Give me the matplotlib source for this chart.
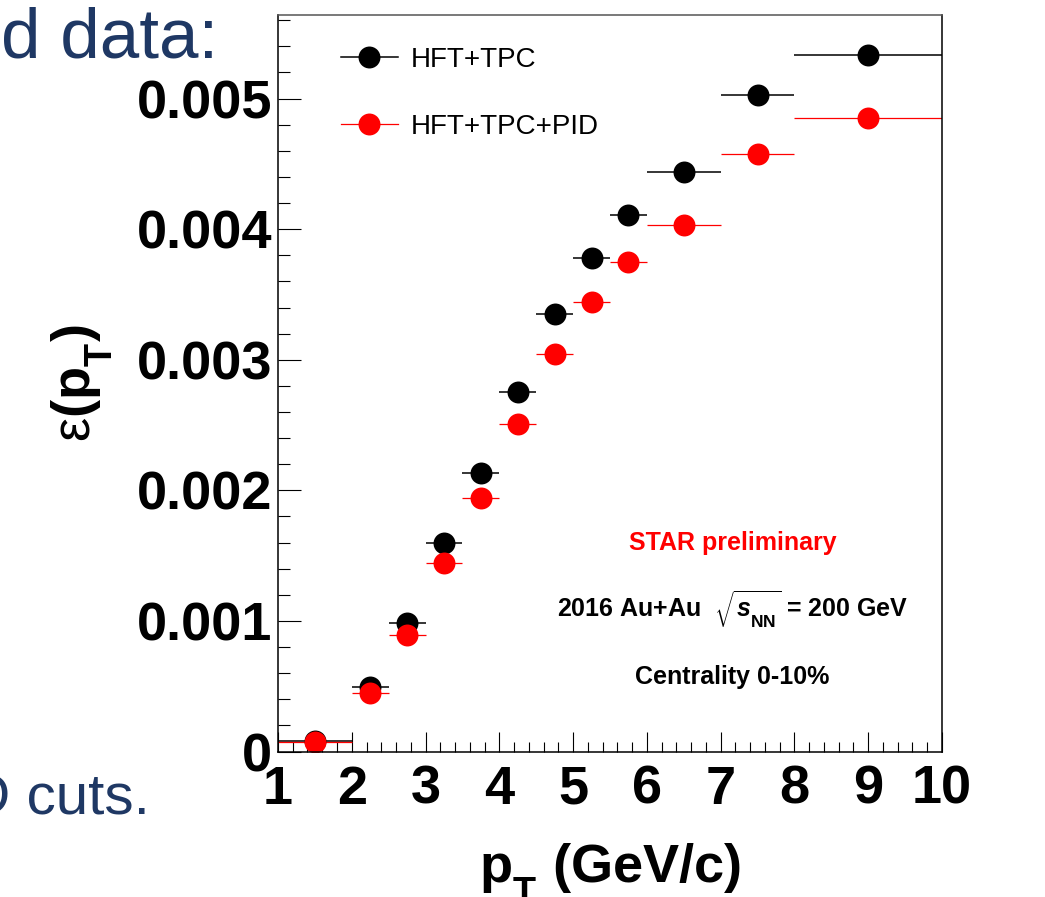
import matplotlib
matplotlib.use("Agg")
import matplotlib.pyplot as plt
from matplotlib.lines import Line2D
from matplotlib.ticker import MultipleLocator, FuncFormatter
import numpy as np

plt.rcParams['font.family'] = ['Liberation Sans', 'DejaVu Sans']
plt.rcParams['mathtext.fontset'] = 'custom'
plt.rcParams['mathtext.rm'] = 'Liberation Sans:bold'
plt.rcParams['mathtext.bf'] = 'Liberation Sans:bold'
plt.rcParams['mathtext.it'] = 'Liberation Sans:italic:bold'
plt.rcParams['mathtext.sf'] = 'Liberation Sans'

# ROOT drops subscripts lower than mathtext does
try:
    import matplotlib._mathtext as _mt
    _mt.FontConstantsBase.sub1 = 0.8
except (ImportError, AttributeError):
    pass

# pT bins (GeV/c)
bin_lo = np.array([1.0, 2.0, 2.5, 3.0, 3.5, 4.0, 4.5, 5.0, 5.5, 6.0, 7.0, 8.0])
bin_hi = np.array([2.0, 2.5, 3.0, 3.5, 4.0, 4.5, 5.0, 5.5, 6.0, 7.0, 8.0, 10.0])

# efficiencies
eff_tpc = [0.000083, 0.000494, 0.000985, 0.00160, 0.002134, 0.002755,
           0.003352, 0.003782, 0.00411, 0.00444, 0.00503, 0.00533]
eff_pid = [0.000075, 0.00045, 0.000893, 0.001444, 0.001943, 0.00251,
           0.003046, 0.003444, 0.00375, 0.004034, 0.004579, 0.00485]

labels = ['HFT+TPC', 'HFT+TPC+PID']
colors = ['black', 'red']

x = (bin_lo + bin_hi) / 2
xerr = (bin_hi - bin_lo) / 2

fig = plt.figure(figsize=(10.45, 8.97), dpi=100)
ax = fig.add_axes([0.266, 0.1622, 0.6354, 0.8211])

ms = 15.8
handles = []
for y, c, lab, lw in zip([eff_tpc, eff_pid], colors, labels, [1.1, 0.9]):
    ax.errorbar(x, y, xerr=xerr, fmt='o', color=c, ms=ms, elinewidth=lw,
                capsize=0, mew=0)
    handles.append(Line2D([], [], color=c, marker='o', ms=ms, lw=lw, mew=0))

ax.set_xlim(1, 10)
ax.set_ylim(0, 0.00564)

ax.xaxis.set_major_locator(MultipleLocator(1))
ax.xaxis.set_minor_locator(MultipleLocator(0.2))
ax.yaxis.set_major_locator(MultipleLocator(0.001))
ax.yaxis.set_minor_locator(MultipleLocator(0.0002))
ax.yaxis.set_major_formatter(FuncFormatter(lambda v, p: '0' if abs(v) < 1e-9 else f'{v:.3f}'))

ax.tick_params(axis='x', which='major', direction='in', length=14.4, width=0.8,
               pad=9.4, labelsize=39)
ax.tick_params(axis='x', which='minor', direction='in', length=7.2, width=0.8)
ax.tick_params(axis='y', which='major', direction='in', length=16.5, width=0.8,
               pad=4.3, labelsize=39)
ax.tick_params(axis='y', which='minor', direction='in', length=8.6, width=0.8)
for lab in ax.get_xticklabels() + ax.get_yticklabels():
    lab.set_fontweight('bold')

for s in ax.spines.values():
    s.set_linewidth(1.1)
ax.spines['top'].set_color('#555555')

ax.set_xlabel(r'$\mathbf{p}_\mathbf{T}$ (GeV/c)', fontsize=39, fontweight='bold', va='baseline')
ax.xaxis.set_label_coords(0.5, -0.1786)
ax.set_ylabel(r'$\mathsf{\varepsilon}\mathbf{(p}_\mathbf{T}\mathbf{)}$', fontsize=39,
              fontweight='bold', va='center')
ax.yaxis.set_label_coords(-0.295, 0.5)

ax.legend(handles, labels, loc='center left', bbox_to_anchor=(0.0949, 0.8934),
          frameon=False, fontsize=20, numpoints=1, handlelength=2.05,
          handletextpad=0.47, labelspacing=1.46, borderpad=0, borderaxespad=0)

ax.text(0.685, 0.283, 'STAR preliminary', transform=ax.transAxes, color='red',
        fontsize=18, fontweight='bold', ha='center', va='center')
ax.text(0.684, 0.192, r'2016 Au+Au  $\sqrt{\mathit{s}_{\mathbf{NN}}}$ = 200 GeV',
        transform=ax.transAxes, fontsize=18, fontweight='bold', ha='center', va='center')
ax.text(0.684, 0.101, 'Centrality 0-10%', transform=ax.transAxes,
        fontsize=18, fontweight='bold', ha='center', va='center')

# slide text around the embedded plot
fig.text(1 / 1045, 1 - 58 / 897, 'd data:', fontsize=51, color='#1F3864',
         ha='left', va='baseline')
fig.text(150 / 1045, 1 - 813 / 897, 'PID cuts.', fontsize=42, color='#1F3864',
         ha='right', va='baseline')

fig.savefig('out.png', dpi=100)
